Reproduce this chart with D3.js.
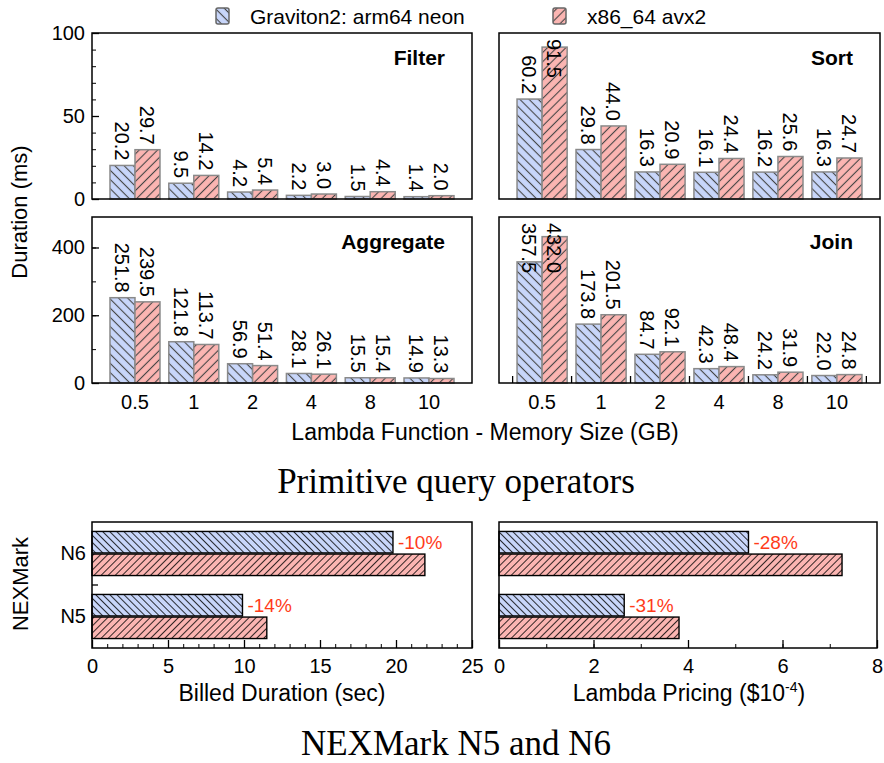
<!DOCTYPE html>
<html>
<head>
<meta charset="utf-8">
<script src="https://cdn.jsdelivr.net/npm/d3@7"></script>
<style>
  body { margin: 0; background: #fff; }
  text { font-family: "Liberation Sans", Arial, Helvetica, sans-serif; fill: #000; }
  .serif { font-family: "Liberation Serif", "Times New Roman", serif; }
</style>
</head>
<body>
<div id="root"></div>
<script>
// ---- data ----
const memSizes = ["0.5", "1", "2", "4", "8", "10"]
const seriesNames = ["Graviton2: arm64 neon", "x86_64 avx2"]

const filterArm = [20.2, 9.5, 4.2, 2.2, 1.5, 1.4]
const filterX86 = [29.7, 14.2, 5.4, 3.0, 4.4, 2.0]
const sortArm = [60.2, 29.8, 16.3, 16.1, 16.2, 16.3]
const sortX86 = [91.5, 44.0, 20.9, 24.4, 25.6, 24.7]
const aggArm = [251.8, 121.8, 56.9, 28.1, 15.5, 14.9]
const aggX86 = [239.5, 113.7, 51.4, 26.1, 15.4, 13.3]
const joinArm = [357.5, 173.8, 84.7, 42.3, 24.2, 22.0]
const joinX86 = [432.0, 201.5, 92.1, 48.4, 31.9, 24.8]

const nexQueries = ["N6", "N5"]
const billedArm = [19.8, 9.9]
const billedX86 = [21.9, 11.5]
const billedPct = ["-10%", "-14%"]
const priceArm = [5.28, 2.65]
const priceX86 = [7.26, 3.81]
const pricePct = ["-28%", "-31%"]

const colors = { armFill: "#c8d6fa", x86Fill: "#fbb5b2", pct: "#ff3b1a" }

const width = 884, height = 763

const svg = d3.select("#root")
  .append("svg")
    .attr("width", width)
    .attr("height", height)

svg.append("rect").attr("width", width).attr("height", height).attr("fill", "#fff")

// Hatch patterns
const defs = svg.append("defs")
function hatch(id, fill, stroke, size, angle, sw) {
  const p = defs.append("pattern")
    .attr("id", id)
    .attr("patternUnits", "userSpaceOnUse")
    .attr("width", size)
    .attr("height", size)
    .attr("patternTransform", `rotate(${angle})`)
  p.append("rect").attr("width", size).attr("height", size).attr("fill", fill)
  p.append("line")
    .attr("x1", size / 2).attr("x2", size / 2)
    .attr("y1", 0).attr("y2", size)
    .attr("stroke", stroke)
    .attr("stroke-width", sw)
}
hatch("armTop", colors.armFill, "#444", 6.5, -45, 1.1)
hatch("x86Top", colors.x86Fill, "#444", 6.5, 45, 1.1)
hatch("armBot", colors.armFill, "#000", 5, -45, 0.8)
hatch("x86Bot", colors.x86Fill, "#000", 5, 45, 0.8)

// Legend
const legend = svg.append("g")
const legendItems = [
  {name: seriesNames[0], fill: "url(#armTop)", x: 216},
  {name: seriesNames[1], fill: "url(#x86Top)", x: 553},
]
legendItems.forEach(d => {
  legend.append("rect")
    .attr("x", d.x).attr("y", 8)
    .attr("width", 13).attr("height", 16)
    .attr("rx", 2)
    .attr("fill", d.fill)
    .attr("stroke", "#666")
    .attr("stroke-width", 1.5)
  legend.append("text")
    .attr("x", d.x + 34).attr("y", 24)
    .attr("font-size", 21)
    .text(d.name)
})

// Column panels (primitive operators)
function columnPanel(cfg) {
  const g = svg.append("g")
  const top = cfg.y, bottom = cfg.y + cfg.h

  const x = d3.scaleBand()
    .domain(memSizes)
    .range([cfg.x, cfg.x + cfg.w])
    .paddingInner(0.15)
    .paddingOuter(0.306)
  const sub = d3.scaleBand().domain(["arm", "x86"]).range([0, x.bandwidth()])
  const y = d3.scaleLinear().domain([0, cfg.max]).range([bottom, top])

  const rows = memSizes.map((m, i) => ({m, vals: [
    {s: "arm", v: cfg.arm[i]},
    {s: "x86", v: cfg.x86[i]},
  ]}))

  const grp = g.selectAll("g.mem")
    .data(rows)
    .join("g")
    .attr("transform", d => `translate(${x(d.m)},0)`)

  grp.selectAll("rect")
    .data(d => d.vals)
    .join("rect")
    .attr("x", d => sub(d.s))
    .attr("y", d => y(d.v))
    .attr("width", sub.bandwidth())
    .attr("height", d => bottom - y(d.v))
    .attr("fill", d => d.s === "arm" ? "url(#armTop)" : "url(#x86Top)")
    .attr("stroke", "#8a8a8a")
    .attr("stroke-width", 1.5)

  // rotated value labels, clamped under the panel top
  grp.selectAll("text.val")
    .data(d => d.vals)
    .join("text")
    .classed("val", true)
    .attr("font-size", 20)
    .attr("dy", "0.36em")
    .text(d => d.v.toFixed(1))
    .each(function(d) {
      const len = this.getComputedTextLength()
      const cx = sub(d.s) + sub.bandwidth() / 2
      let start = y(d.v) - 5 - len
      if (start < top + 6) start = top + 6
      d3.select(this).attr("transform", `translate(${cx},${start})rotate(90)`)
    })

  // y axis (inward ticks)
  if (cfg.yLabels) {
    g.append("g")
      .attr("transform", `translate(${cfg.x},0)`)
      .call(d3.axisLeft(y).tickValues(d3.range(0, cfg.max + 1, cfg.minor)).tickSize(-4).tickFormat(""))
      .call(a => a.select(".domain").remove())
    g.append("g")
      .attr("transform", `translate(${cfg.x},0)`)
      .call(d3.axisLeft(y).tickValues(cfg.ticks).tickSize(-7).tickPadding(7))
      .call(a => a.select(".domain").remove())
      .call(a => a.selectAll("text").attr("font-size", 20).attr("font-family", null))
      .call(a => a.selectAll("line").attr("stroke-width", 1.3))
  }

  if (cfg.xLabels) {
    g.append("g")
      .attr("transform", `translate(0,${bottom})`)
      .call(d3.axisBottom(x).tickSize(0).tickPadding(12))
      .call(a => a.select(".domain").remove())
      .call(a => a.selectAll("text").attr("font-size", 20).attr("font-family", null))
  }

  if (cfg.groupTicks) {
    const edges = memSizes.map(m => x(m) + x.bandwidth() / 2 - x.step() / 2)
    edges.push(edges[edges.length - 1] + x.step())
    g.selectAll("line.edge")
      .data(edges)
      .join("line")
      .attr("x1", d => d).attr("x2", d => d)
      .attr("y1", bottom).attr("y2", bottom - 7)
      .attr("stroke", "#000")
      .attr("stroke-width", 1.3)
  }

  g.append("rect")
    .attr("x", cfg.x).attr("y", top)
    .attr("width", cfg.w).attr("height", cfg.h)
    .attr("fill", "none")
    .attr("stroke", "#000")
    .attr("stroke-width", 1.5)

  g.append("text")
    .attr("x", cfg.x + cfg.w - 27)
    .attr("y", top + 32)
    .attr("text-anchor", "end")
    .attr("font-size", 21)
    .attr("font-weight", "bold")
    .text(cfg.title)
}

columnPanel({title: "Filter", arm: filterArm, x86: filterX86, x: 92, y: 33, w: 380, h: 166,
  max: 100, ticks: [0, 50, 100], minor: 10, yLabels: true})
columnPanel({title: "Sort", arm: sortArm, x86: sortX86, x: 499, y: 33, w: 381, h: 166,
  max: 100, ticks: [0, 50, 100], minor: 10})
columnPanel({title: "Aggregate", arm: aggArm, x86: aggX86, x: 92, y: 217, w: 380, h: 166,
  max: 490, ticks: [0, 200, 400], minor: 100, yLabels: true, xLabels: true})
columnPanel({title: "Join", arm: joinArm, x86: joinX86, x: 499, y: 217, w: 381, h: 166,
  max: 490, ticks: [0, 200, 400], minor: 100, xLabels: true, groupTicks: true})

svg.append("text")
  .attr("transform", "translate(27,212)rotate(-90)")
  .attr("text-anchor", "middle")
  .attr("font-size", 22)
  .text("Duration (ms)")

svg.append("text")
  .attr("x", 485).attr("y", 440)
  .attr("text-anchor", "middle")
  .attr("font-size", 23)
  .text("Lambda Function - Memory Size (GB)")

svg.append("text")
  .classed("serif", true)
  .attr("x", 456).attr("y", 493)
  .attr("text-anchor", "middle")
  .attr("font-size", 35)
  .text("Primitive query operators")

// Horizontal bar panels (NEXMark)
function barPanel(cfg) {
  const g = svg.append("g")
  const top = cfg.y, bottom = cfg.y + cfg.h

  const x = d3.scaleLinear().domain([0, cfg.max]).range([cfg.x, cfg.x + cfg.w])
  const y = d3.scaleBand().domain(nexQueries).range([top, bottom])
    .paddingInner(0.3).paddingOuter(0.15)
  const sub = d3.scaleBand().domain(["arm", "x86"]).range([0, y.bandwidth()]).paddingInner(0.05)

  const rows = nexQueries.map((q, i) => ({q, pct: cfg.pct[i], vals: [
    {s: "arm", v: cfg.arm[i]},
    {s: "x86", v: cfg.x86[i]},
  ]}))

  const grp = g.selectAll("g.q")
    .data(rows)
    .join("g")
    .attr("transform", d => `translate(0,${y(d.q)})`)

  grp.selectAll("rect")
    .data(d => d.vals)
    .join("rect")
    .attr("x", x(0))
    .attr("y", d => sub(d.s))
    .attr("width", d => x(d.v) - x(0))
    .attr("height", sub.bandwidth())
    .attr("fill", d => d.s === "arm" ? "url(#armBot)" : "url(#x86Bot)")
    .attr("stroke", "#000")
    .attr("stroke-width", 1.4)

  grp.append("text")
    .attr("x", d => x(d.vals[0].v) + 5)
    .attr("y", sub("arm") + sub.bandwidth() / 2)
    .attr("dy", "0.35em")
    .attr("font-size", 19)
    .style("fill", colors.pct)
    .text(d => d.pct)

  // x axis with inward ticks
  g.append("g")
    .attr("transform", `translate(0,${bottom})`)
    .call(d3.axisBottom(x).tickValues(d3.range(0, cfg.max + 1, 1)).tickSize(-4).tickFormat(""))
    .call(a => a.select(".domain").remove())
  g.append("g")
    .attr("transform", `translate(0,${bottom})`)
    .call(d3.axisBottom(x).tickValues(d3.range(0, cfg.max + 1, cfg.major)).tickSize(-8).tickPadding(11))
    .call(a => a.select(".domain").remove())
    .call(a => a.selectAll("text").attr("font-size", 20).attr("font-family", null))
    .call(a => a.selectAll("line").attr("stroke-width", 1.3))

  if (cfg.yLabels) {
    g.append("g")
      .attr("transform", `translate(${cfg.x},0)`)
      .call(d3.axisLeft(y).tickSize(0).tickPadding(6))
      .call(a => a.select(".domain").remove())
      .call(a => a.selectAll("text").attr("font-size", 20).attr("font-family", null))
    const mid = y(nexQueries[0]) + y.bandwidth() + y.step() * y.paddingInner() / 2
    g.append("line")
      .attr("x1", cfg.x).attr("x2", cfg.x + 6)
      .attr("y1", mid).attr("y2", mid)
      .attr("stroke", "#000").attr("stroke-width", 1.3)
  }

  g.append("rect")
    .attr("x", cfg.x).attr("y", top)
    .attr("width", cfg.w).attr("height", cfg.h)
    .attr("fill", "none")
    .attr("stroke", "#000")
    .attr("stroke-width", 1.5)

  const label = g.append("text")
    .attr("x", cfg.x + cfg.w / 2 + cfg.labelShift)
    .attr("y", 701)
    .attr("text-anchor", "middle")
    .attr("font-size", 23)
  label.append("tspan").text(cfg.label)
  if (cfg.sup) {
    label.append("tspan").attr("dy", -9).attr("font-size", 14).text(cfg.sup)
    label.append("tspan").attr("dy", 9).text(")")
  }
}

barPanel({arm: billedArm, x86: billedX86, pct: billedPct, x: 92, y: 522, w: 380, h: 126,
  max: 25, major: 5, yLabels: true, label: "Billed Duration (sec)", labelShift: 0})
barPanel({arm: priceArm, x86: priceX86, pct: pricePct, x: 499, y: 522, w: 378, h: 126,
  max: 8, major: 2, label: "Lambda Pricing ($10", sup: "-4", labelShift: 1})

svg.append("text")
  .attr("transform", "translate(28,584)rotate(-90)")
  .attr("text-anchor", "middle")
  .attr("font-size", 22)
  .text("NEXMark")

svg.append("text")
  .classed("serif", true)
  .attr("x", 456).attr("y", 755)
  .attr("text-anchor", "middle")
  .attr("font-size", 35)
  .text("NEXMark N5 and N6")
</script>
</body>
</html>
